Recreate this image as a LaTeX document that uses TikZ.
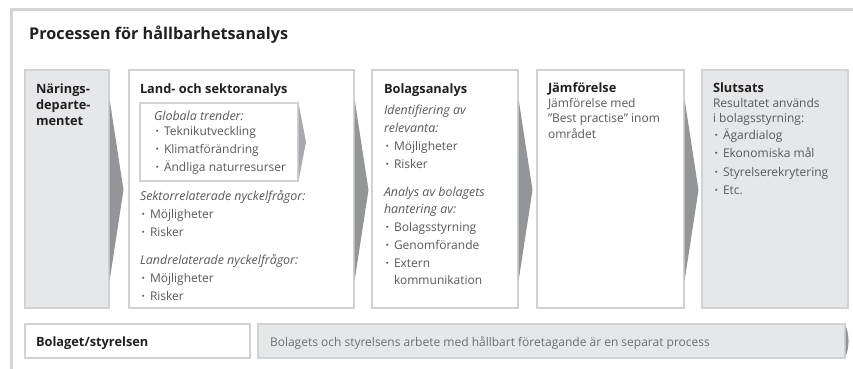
\documentclass[tikz,border=0pt]{standalone}
\usepackage{fontspec}
\setmainfont{Open Sans}
\IfFontExistsTF{Open Sans SemiBold}{\newfontfamily\semib{Open Sans SemiBold}\def\hdscale{1.03}}{\newcommand\semib{\bfseries}\def\hdscale{1}}
\usetikzlibrary{calc}
\definecolor{framec}{HTML}{D4D4D5}
\definecolor{borderc}{HTML}{D1D2D4}
\definecolor{boxgrey}{HTML}{E6E7E8}
\definecolor{arrowc}{HTML}{939598}
\definecolor{arrowlight}{HTML}{A7A9AC}
\definecolor{headc}{HTML}{231F20}
\definecolor{bodyc}{HTML}{58595B}
\definecolor{barc}{HTML}{6D6E71}
\newcommand\bl{\makebox[10pt][l]{\hspace{1.6pt}{\bfseries ·}}}
\tikzset{
  panel/.style={draw=borderc, line width=1.4pt, anchor=north west, inner sep=0, outer sep=0},
  hd/.style={anchor=base west, inner sep=0, outer sep=0, text=headc, font=\fontsize{\fpeval{12.8*\hdscale}}{14}\selectfont\semib},
  tx/.style={anchor=base west, inner sep=0, outer sep=0, text=bodyc, font=\fontsize{12}{14}\selectfont},
  it/.style={tx, font=\fontsize{12.4}{14}\selectfont\itshape},
}
\begin{document}
\begin{tikzpicture}[x=1pt,y=-1pt]
\useasboundingbox (0,0) rectangle (853,369);
% outer frame (top and left edges)
\draw[framec, line width=3pt] (11.5,369) -- (11.5,9.5) -- (853,9.5);
\node[anchor=base west, inner sep=0, text=headc, font=\fontsize{\fpeval{16.2*\hdscale}}{18}\selectfont\semib] (title) at (29,40) {Processen för hållbarhetsanalys};

% panels
\node[panel, fill=boxgrey, minimum width=84, minimum height=238] (b1) at (25,70) {};
\node[panel, fill=white, minimum width=225, minimum height=238] (b2) at (129,70) {};
\node[panel, fill=white, minimum width=146, minimum height=238] (b3) at (372,70) {};
\node[panel, fill=white, minimum width=147, minimum height=238] (b4) at (537,70) {};
\node[panel, fill=boxgrey, minimum width=146, minimum height=238] (b5) at (702,70) {};
\node[panel, fill=white, minimum width=158, minimum height=78] (gl) at (140,103) {};

% chevrons
\foreach \b in {b1,b2,b3,b4}{
  \fill[arrowc] ($(\b.north east)+(0.7,30)$) -- ($(\b.east)+(14.5,1)$) -- ($(\b.south east)+(0.7,-28)$) -- cycle;
}
\fill[arrowlight] ($(gl.north east)+(0.7,1)$) -- ($(gl.east)+(8,0)$) -- ($(gl.south east)+(0.7,-1)$) -- cycle;

% box 1
\node[hd] (n1a) at (36,93) {Närings-};
\node[hd] (n1b) at (36,109) {departe-};
\node[hd] (n1c) at (36,125) {mentet};

% box 2
\node[hd] (n2h) at (140,93) {Land- och sektoranalys};
\node[it] (g0) at (154,120) {Globala trender:};
\node[tx] (g1) at (154,135.5) {\bl Teknikutveckling};
\node[tx] (g2) at (154,153.5) {\bl Klimatförändring};
\node[tx] (g3) at (154,171.5) {\bl Ändliga naturresurser};
\node[it] (s0) at (140,200) {Sektorrelaterade nyckelfrågor:};
\node[tx] (s1) at (140,218) {\bl Möjligheter};
\node[tx] (s2) at (140,236) {\bl Risker};
\node[it] (l0) at (140,264) {Landrelaterade nyckelfrågor:};
\node[tx] (l1) at (140,282) {\bl Möjligheter};
\node[tx] (l2) at (140,300) {\bl Risker};

% box 3
\node[hd] (n3h) at (384,93) {Bolagsanalys};
\node[it] (i0) at (384,114) {Identifiering av};
\node[it] (i1) at (384,132) {relevanta:};
\node[tx] (i2) at (384,150) {\bl Möjligheter};
\node[tx] (i3) at (384,168) {\bl Risker};
\node[it] (a0) at (384,196) {Analys av bolagets};
\node[it] (a1) at (384,213.5) {hantering av:};
\node[tx] (a2) at (384,231) {\bl Bolagsstyrning};
\node[tx] (a3) at (384,249) {\bl Genomförande};
\node[tx] (a4) at (384,267) {\bl Extern};
\node[tx] (a5) at (394,284) {kommunikation};

% box 4
\node[hd] (n4h) at (548,92) {Jämförelse};
\node[tx] (j1) at (548,107) {Jämförelse med};
\node[tx] (j2) at (548,122.5) {"Best practise" inom};
\node[tx] (j3) at (548,138) {området};

% box 5
\node[hd] (n5h) at (713,92) {Slutsats};
\node[tx] (r1) at (713,107) {Resultatet används};
\node[tx] (r2) at (713,122.5) {i bolagsstyrning:};
\node[tx] (r3) at (713,139) {\bl Ägardialog};
\node[tx] (r4) at (713,157.5) {\bl Ekonomiska mål};
\node[tx] (r5) at (713,176) {\bl Styrelserekrytering};
\node[tx] (r6) at (713,194.5) {\bl Etc.};

% bottom row
\node[panel, fill=white, minimum width=225, minimum height=34] (bs) at (25,324) {};
\node[panel, fill=boxgrey, minimum width=587, minimum height=34] (bar) at (258,324) {};
\fill[arrowc] ($(bar.north east)+(0.7,2)$) .. controls ($(bar.east)+(4.5,-6)$) and ($(bar.east)+(4.5,6)$) .. ($(bar.south east)+(0.7,-2)$) -- cycle;
\node[hd] (bst) at (36,346) {Bolaget/styrelsen};
\node[tx, text=barc] (bart) at (270,346) {Bolagets och styrelsens arbete med hållbart företagande är en separat process};
\end{tikzpicture}
\end{document}
